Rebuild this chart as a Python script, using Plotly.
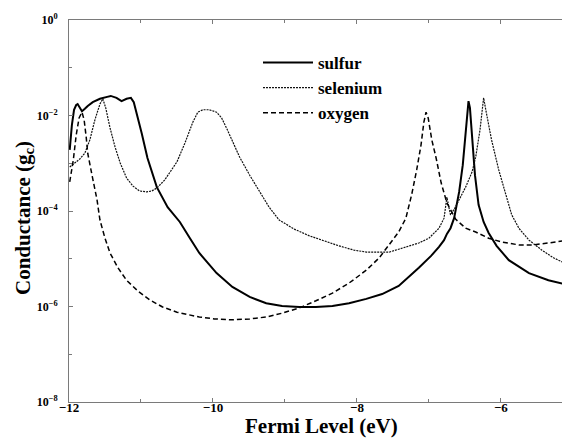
import plotly.graph_objects as go

# Fermi level (eV) and log10 conductance (in units of g_c)
sulfur_x = [-11.99, -11.96, -11.93, -11.90, -11.88, -11.85, -11.82, -11.78, -11.74, -11.67,
            -11.57, -11.47, -11.42, -11.34, -11.27, -11.20, -11.14, -11.10, -11.06, -10.99,
            -10.91, -10.78, -10.63, -10.46, -10.32, -10.19, -9.95, -9.73, -9.49, -9.26,
            -9.04, -8.80, -8.57, -8.34, -8.11, -7.87, -7.65, -7.42, -7.14, -6.97,
            -6.86, -6.79, -6.75, -6.70, -6.65, -6.58, -6.53, -6.49, -6.46, -6.45,
            -6.43, -6.40, -6.36, -6.31, -6.24, -6.17, -6.06, -5.89, -5.61, -5.34, -5.06]
sulfur_log = [-2.72, -2.20, -1.88, -1.78, -1.76, -1.84, -1.91, -1.86, -1.80, -1.72,
              -1.65, -1.61, -1.59, -1.63, -1.70, -1.65, -1.63, -1.72, -1.95, -2.37,
              -2.89, -3.50, -3.92, -4.23, -4.57, -4.88, -5.30, -5.59, -5.80, -5.93,
              -5.99, -6.01, -6.01, -5.99, -5.93, -5.84, -5.74, -5.57, -5.19, -4.94,
              -4.75, -4.61, -4.48, -4.36, -4.15, -3.60, -3.04, -2.41, -1.88, -1.70,
              -1.84, -2.51, -3.25, -3.87, -4.23, -4.46, -4.73, -5.03, -5.30, -5.45, -5.55]

selenium_x = [-11.99, -11.92, -11.85, -11.78, -11.71, -11.64, -11.57, -11.53, -11.49, -11.43,
              -11.36, -11.29, -11.20, -11.11, -11.02, -10.92, -10.85, -10.78, -10.67, -10.50,
              -10.39, -10.28, -10.21, -10.14, -10.05, -9.95, -9.88, -9.80, -9.73, -9.63,
              -9.49, -9.35, -9.22, -9.08, -8.87, -8.66, -8.45, -8.25, -8.04, -7.87,
              -7.69, -7.55, -7.42, -7.28, -7.14, -7.00, -6.86, -6.79, -6.76, -6.75,
              -6.72, -6.70, -6.64, -6.58, -6.49, -6.40, -6.35, -6.29, -6.25, -6.24,
              -6.21, -6.17, -6.13, -6.03, -5.93, -5.85, -5.75, -5.61, -5.43, -5.27, -5.06]
selenium_log = [-3.08, -2.99, -2.91, -2.79, -2.51, -2.09, -1.76, -1.65, -1.84, -2.26,
                -2.66, -2.99, -3.31, -3.48, -3.58, -3.60, -3.58, -3.52, -3.35, -2.97,
                -2.58, -2.14, -1.93, -1.88, -1.88, -1.93, -2.05, -2.30, -2.55, -2.87,
                -3.25, -3.60, -3.92, -4.19, -4.38, -4.52, -4.63, -4.73, -4.82, -4.86,
                -4.86, -4.86, -4.80, -4.73, -4.67, -4.57, -4.36, -4.15, -3.87, -3.71,
                -3.94, -4.08, -3.94, -3.77, -3.50, -3.18, -2.87, -2.30, -1.78, -1.63,
                -1.88, -2.20, -2.51, -3.14, -3.66, -4.08, -4.36, -4.61, -4.82, -4.98, -5.13]

oxygen_x = [-11.99, -11.94, -11.90, -11.86, -11.82, -11.79, -11.76, -11.74, -11.68, -11.61,
            -11.57, -11.50, -11.43, -11.32, -11.20, -11.04, -10.88, -10.70, -10.50, -10.32,
            -10.19, -9.98, -9.73, -9.49, -9.26, -9.04, -8.80, -8.57, -8.34, -8.11,
            -7.87, -7.69, -7.55, -7.42, -7.32, -7.24, -7.17, -7.11, -7.07, -7.04,
            -7.01, -6.96, -6.90, -6.83, -6.75, -6.68, -6.63, -6.49, -6.35, -6.17,
            -5.99, -5.75, -5.55, -5.34, -5.06]
oxygen_log = [-3.39, -2.93, -2.41, -2.05, -1.93, -2.09, -2.47, -2.79, -3.25, -3.77,
              -4.19, -4.57, -4.88, -5.19, -5.45, -5.68, -5.86, -6.01, -6.12, -6.18,
              -6.22, -6.26, -6.28, -6.26, -6.22, -6.14, -6.03, -5.88, -5.72, -5.51,
              -5.24, -4.98, -4.71, -4.44, -4.15, -3.66, -3.14, -2.62, -2.14, -1.93,
              -2.05, -2.51, -2.89, -3.41, -3.83, -4.04, -4.17, -4.36, -4.44, -4.57,
              -4.65, -4.71, -4.71, -4.67, -4.61]

x_major_ticks = [-12, -10, -8, -6]
x_major_text = ["\u221212", "\u221210", "\u22128", "\u22126"]
x_minor_ticks = [-11, -9, -7, -5]
y_major_exps = [0, -2, -4, -6, -8]
y_major_text = ["10<sup>0</sup>", "10<sup>\u22122</sup>", "10<sup>\u22124</sup>",
                "10<sup>\u22126</sup>", "10<sup>\u22128</sup>"]
y_minor_exps = [-1, -3, -5, -7]

FONT = "Liberation Serif"
AXC = "#7a7a7a"
# the page body has an 8px default margin: compensate so the plot sits where the reference has it
OFF = 8
W, H = 570 - OFF, 439 - OFF
L, T, B = 69 - OFF, 20 - OFF, 37
PW, PH = W - L, H - T - B

fig = go.Figure()
fig.add_trace(go.Scatter(x=sulfur_x, y=[10 ** v for v in sulfur_log], mode="lines", name="sulfur",
                         line=dict(color="black", width=2)))
fig.add_trace(go.Scatter(x=selenium_x, y=[10 ** v for v in selenium_log], mode="lines", name="selenium",
                         line=dict(color="#111111", width=1.2, dash="2px,1px")))
fig.add_trace(go.Scatter(x=oxygen_x, y=[10 ** v for v in oxygen_log], mode="lines", name="oxygen",
                         line=dict(color="black", width=1.5, dash="5px,3px")))

fig.update_layout(
    width=W, height=H,
    margin=dict(l=L, r=0, t=T, b=B, autoexpand=False),
    paper_bgcolor="white", plot_bgcolor="white",
    showlegend=True,
    legend=dict(x=(262 - 69 - 4) / PW, y=(402 - 45) / PH, xanchor="left", yanchor="top",
                bgcolor="rgba(0,0,0,0)",
                font=dict(family=FONT, size=17, color="black", weight="bold"),
                itemwidth=50, tracegroupgap=0),
    xaxis=dict(range=[-12, -5.04], tickmode="array", tickvals=x_major_ticks, ticktext=x_major_text,
               ticks="inside", ticklen=4, tickcolor=AXC, showline=True, linecolor=AXC,
               linewidth=1, mirror="allticks", showgrid=False, zeroline=False,
               minor=dict(tickmode="array", tickvals=x_minor_ticks, ticks="inside", ticklen=3,
                          tickcolor=AXC, showgrid=False),
               tickfont=dict(family=FONT, size=13, color="black", weight="bold"),
               ticklabelstandoff=-7),
    yaxis=dict(type="log", range=[-8, 0], tickmode="array",
               tickvals=[10 ** e for e in y_major_exps], ticktext=y_major_text,
               ticks="inside", ticklen=4, tickcolor=AXC,
               showline=True, linecolor=AXC, linewidth=1, mirror=False,
               showgrid=False, zeroline=False,
               minor=dict(tickmode="array", tickvals=[10 ** e for e in y_minor_exps], ticks="inside",
                          ticklen=3, tickcolor=AXC, showgrid=False),
               tickfont=dict(family=FONT, size=12, color="black", weight="bold"),
               ticklabelstandoff=8),
)

fig.add_annotation(text="Fermi Level (eV)", xref="paper", yref="paper",
                   x=(321 - 69) / PW, y=-(426 - 402) / PH, xanchor="center", yanchor="middle",
                   showarrow=False, font=dict(family=FONT, size=21, color="black", weight="bold"))
fig.add_annotation(text="Conductance (g<sub>c</sub>)", xref="paper", yref="paper",
                   x=-(69 - 24) / PW, y=(402 - 218) / PH, xanchor="center", yanchor="middle",
                   textangle=-90, showarrow=False,
                   font=dict(family=FONT, size=21, color="black", weight="bold"))

fig.write_html("out.html")
